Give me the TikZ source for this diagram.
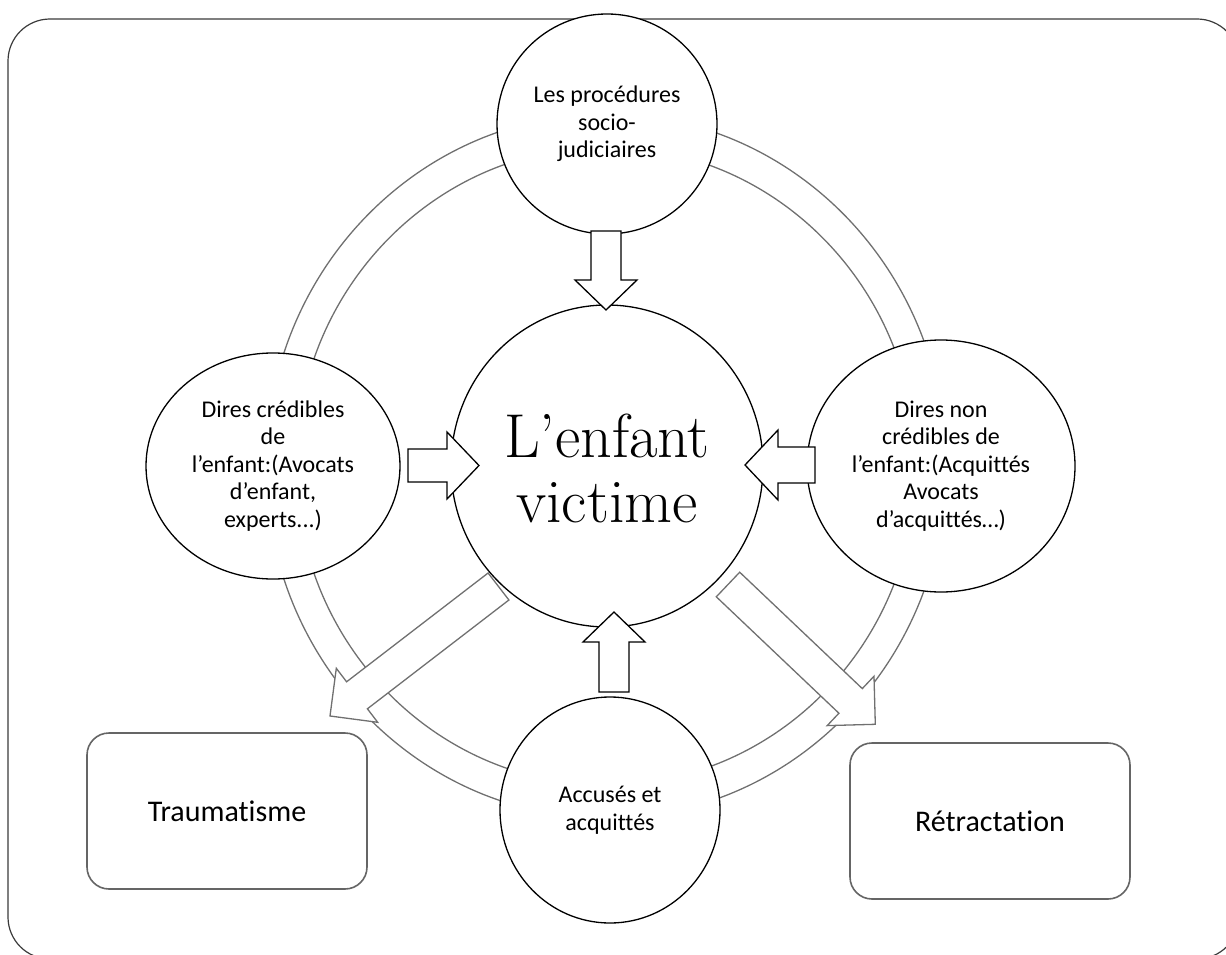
\documentclass[tikz,border=0pt]{standalone}
\usepackage{fontspec}
\newfontfamily\calib[Ligatures=NoCommon]{Carlito}
\usetikzlibrary{shapes.geometric}
\definecolor{ringgray}{HTML}{707070}
\definecolor{boxgray}{HTML}{656565}
\definecolor{framegray}{HTML}{3A3A3A}
\tikzset{
  circ/.style={ellipse, draw=black, line width=1.3pt, fill=white, inner sep=0pt, align=center,
    font=\calib\fontsize{24}{27.5}\selectfont},
  ringline/.style={draw=ringgray, line width=1.3pt},
  garrow/.style={draw=ringgray, fill=white, line width=1.3pt, line join=miter},
  barrow/.style={draw=black, fill=white, line width=1.3pt, line join=miter},
  resbox/.style={draw=boxgray, line width=1.6pt, rounded corners=22pt, fill=white,
    font=\calib\fontsize{30}{36}\selectfont},
  frame/.style={draw=framegray, line width=1.2pt, rounded corners=42pt},
  bigtxt/.style={font=\rmfamily\fontsize{62}{65}\selectfont, align=center, inner sep=0pt}
}
\begin{document}
\begin{tikzpicture}[x=1pt,y=-1pt]
\useasboundingbox (0,0) rectangle (1226,955);
\clip (0,0) rectangle (1226,955);
% outer frame
\draw[frame] (8,19) rectangle (1239,959);
% ring
\draw[ringline] (606,466) ellipse [x radius=340, y radius=352];
\draw[ringline] (606,466) ellipse [x radius=310, y radius=319];
% diagonal block arrows
\draw[garrow] (488.1,573) -- (346.6,681.8) -- (336.3,668.3) -- (330,716) -- (377.7,722.3) -- (367.4,708.8) -- (508.9,600) -- cycle;
\draw[garrow] (739.7,572.2) -- (862.3,688.6) -- (874.0,676.2) -- (875.3,724.3) -- (827.2,725.6) -- (838.9,713.2) -- (716.3,596.8) -- cycle;
% circles
\node[circ, minimum width=220pt, minimum height=220pt] (top) at (607,124) {Les procédures\\socio-\\judiciaires};
\node[circ, minimum width=254pt, minimum height=226pt] (left) at (273,466) {Dires crédibles\\de\\l’enfant:(Avocats\\d’enfant,\\experts...)};
\node[circ, minimum width=268pt, minimum height=252pt] (right) at (941,466) {Dires non\\crédibles de\\l’enfant:(Acquittés\\Avocats\\d’acquittés…)};
\node[circ, minimum width=220pt, minimum height=226pt] (bottom) at (610,810) {Accusés et\\acquittés};
\node[circ, minimum width=312pt, minimum height=322pt] (center) at (607,466) {};
\node[bigtxt] (ctext) at (607,468) {L’enfant\\victime};
% result boxes
\node[resbox, minimum width=280pt, minimum height=156pt] (trauma) at (227,811) {Traumatisme};
\node[resbox, minimum width=280pt, minimum height=156pt] (retract) at (990,821) {Rétractation};
% straight block arrows
\draw[barrow] (591,231) -- (621,231) -- (621,280) -- (637,280) -- (606,310) -- (575,280) -- (591,280) -- cycle;
\draw[barrow] (599,692) -- (629,692) -- (629,642) -- (645,642) -- (614,612) -- (583,642) -- (599,642) -- cycle;
\draw[barrow] (408,449) -- (447,449) -- (447,432) -- (479,465.5) -- (447,499) -- (447,482) -- (408,482) -- cycle;
\draw[barrow] (815,447) -- (778,447) -- (778,430) -- (745,465) -- (778,500) -- (778,483) -- (815,483) -- cycle;
\end{tikzpicture}
\end{document}
